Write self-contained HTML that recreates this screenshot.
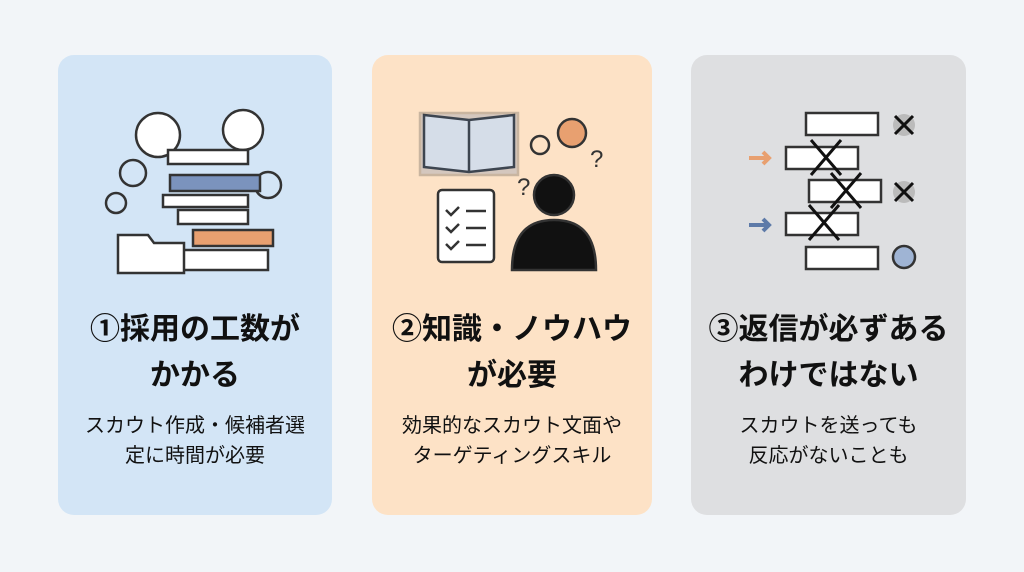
<!DOCTYPE html>
<html><head><meta charset="utf-8"><style>
body{margin:0;width:1024px;height:572px;background:#f2f5f8;position:relative;overflow:hidden;font-family:"Liberation Sans","Noto Sans CJK JP",sans-serif;}
.card{position:absolute;top:55px;height:460px;border-radius:16px;text-align:center;color:#111;}
.t{position:absolute;left:0;right:0;top:252px;font-size:30px;font-weight:bold;line-height:46px;}
.b{position:absolute;left:0;right:0;top:356px;font-size:20px;line-height:30px;}
svg{position:absolute;left:0;top:0}
</style></head><body>
<div class="card" style="left:58px;width:274px;background:#d3e5f6">
<svg width="274" height="240" viewBox="0 0 274 240" fill="none" stroke="#333" stroke-width="2.5">
<circle cx="100" cy="80" r="22" fill="#fff"/><circle cx="185" cy="75" r="20" fill="#fff"/>
<circle cx="75" cy="118" r="13"/><circle cx="210" cy="130" r="13"/><circle cx="58" cy="148" r="10"/>
<rect x="110" y="95" width="80" height="14" fill="#fff"/>
<rect x="112" y="120" width="90" height="16" fill="#7b93bd"/>
<rect x="105" y="140" width="85" height="12" fill="#fff"/>
<rect x="135" y="175" width="80" height="16" fill="#e8a070"/>
<rect x="120" y="155" width="70" height="14" fill="#fff"/>
<rect x="120" y="195" width="90" height="20" fill="#fff"/>
<path d="M60 180h30l6 8h30v30H60z" fill="#fff"/>
</svg>
<div class="t">①採用の工数が<br>かかる</div>
<div class="b">スカウト作成・候補者選<br>定に時間が必要</div></div>
<div class="card" style="left:372px;width:280px;background:#fde2c6">
<svg width="280" height="240" viewBox="0 0 280 240" fill="none" stroke="#333" stroke-width="2.5">
<path d="M52 60l45 5 45-5v52l-45 5-45-5z" fill="#fff"/><path d="M97 65v52"/>
<rect x="48" y="58" width="98" height="62" fill="#5d7aa8" opacity=".25"/>
<circle cx="200" cy="78" r="14" fill="#e8a070"/><circle cx="168" cy="90" r="9"/>
<rect x="66" y="135" width="56" height="72" rx="4" fill="#fff"/>
<path d="M74 155l5 5 8-8M74 172l5 5 8-8M74 189l5 5 8-8M94 156h20M94 173h20M94 190h20"/>
<circle cx="182" cy="140" r="20" fill="#111"/>
<path d="M140 215c0-35 15-50 42-50s42 15 42 50z" fill="#111"/>
<text x="145" y="140" font-size="24" fill="#333" stroke="none">?</text>
<text x="218" y="112" font-size="24" fill="#333" stroke="none">?</text>
</svg>
<div class="t">②知識・ノウハウ<br>が必要</div>
<div class="b">効果的なスカウト文面や<br>ターゲティングスキル</div></div>
<div class="card" style="left:691px;width:275px;background:#dedfe1">
<svg width="275" height="240" viewBox="0 0 275 240" fill="none" stroke="#333" stroke-width="2.5">
<rect x="115" y="58" width="72" height="22" fill="#fff"/>
<rect x="95" y="92" width="72" height="22" fill="#fff"/>
<rect x="118" y="125" width="72" height="22" fill="#fff"/>
<rect x="95" y="158" width="72" height="22" fill="#fff"/>
<rect x="115" y="192" width="72" height="22" fill="#fff"/>
<path d="M120 85l30 35M150 85l-30 35M140 118l30 35M170 118l-30 35M118 150l30 35M148 150l-30 35" stroke="#111" stroke-width="3"/>
<circle cx="213" cy="70" r="11" fill="#bbb" stroke="none"/><circle cx="213" cy="137" r="11" fill="#bbb" stroke="none"/>
<path d="M204 61l18 18M222 61l-18 18M204 128l18 18M222 128l-18 18" stroke="#111" stroke-width="3"/>
<circle cx="213" cy="202" r="11" fill="#9fb4d4"/>
<path d="M58 103h20M72 97l6 6-6 6" stroke="#e8a070" stroke-width="4"/>
<path d="M58 170h20M72 164l6 6-6 6" stroke="#5d7aa8" stroke-width="4"/>
</svg>
<div class="t">③返信が必ずある<br>わけではない</div>
<div class="b">スカウトを送っても<br>反応がないことも</div></div>
</body></html>
